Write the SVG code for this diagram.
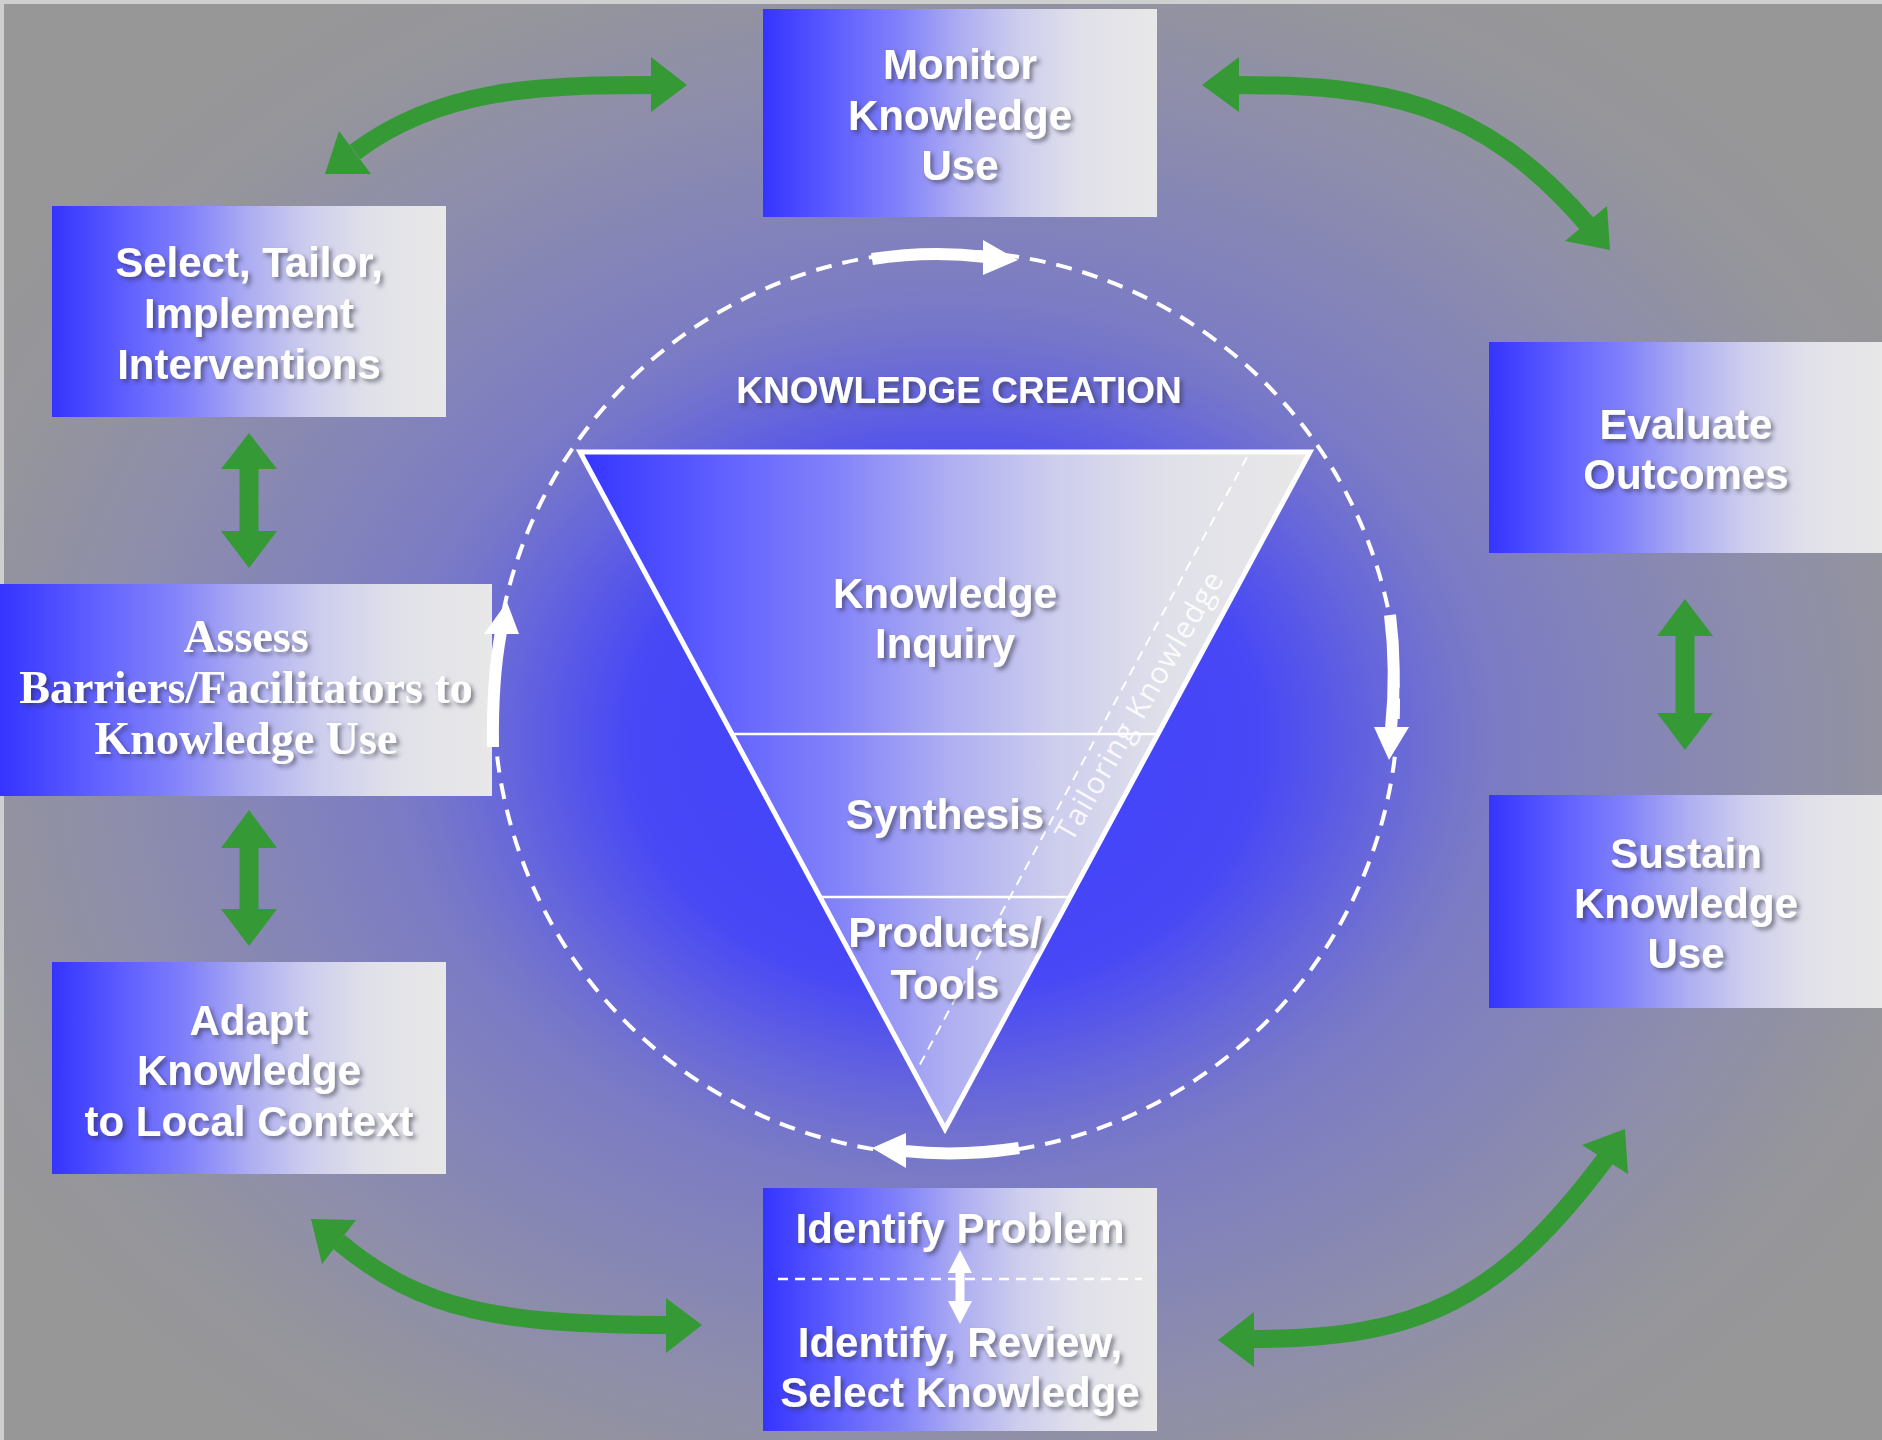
<svg xmlns="http://www.w3.org/2000/svg" width="1882" height="1440" viewBox="0 0 1882 1440">
<defs>
<radialGradient id="bg" gradientUnits="userSpaceOnUse" cx="945" cy="740" r="900" gradientTransform="translate(945 740) scale(1.25 1) translate(-945 -740)">
<stop offset="0" stop-color="#4040ff"/>
<stop offset="0.28" stop-color="#4848f6"/>
<stop offset="0.34" stop-color="#5858e8"/>
<stop offset="0.39" stop-color="#6666dc"/>
<stop offset="0.46" stop-color="#7676ca"/>
<stop offset="0.5" stop-color="#7c7cc4"/>
<stop offset="0.63" stop-color="#8686b6"/>
<stop offset="0.75" stop-color="#8e8eaa"/>
<stop offset="0.88" stop-color="#95959c"/>
<stop offset="1" stop-color="#979797"/>
</radialGradient>
<linearGradient id="bx" x1="0" y1="0" x2="1" y2="0">
<stop offset="0" stop-color="#3434ff"/>
<stop offset="0.2" stop-color="#6262ff"/>
<stop offset="0.35" stop-color="#8282fa"/>
<stop offset="0.5" stop-color="#adadf2"/>
<stop offset="0.65" stop-color="#cdcdee"/>
<stop offset="0.8" stop-color="#e0e0ea"/>
<stop offset="1" stop-color="#e8e8e8"/>
</linearGradient>
<filter id="sh" x="-10%" y="-30%" width="130%" height="170%">
<feGaussianBlur in="SourceAlpha" stdDeviation="2"/>
<feOffset dx="3" dy="3" result="o"/>
<feFlood flood-color="#303040" flood-opacity="0.55"/>
<feComposite in2="o" operator="in"/>
<feMerge><feMergeNode/><feMergeNode in="SourceGraphic"/></feMerge>
</filter>
<style>
.box { fill: url(#bx); }
.t { font-family: "Liberation Sans", Arial, sans-serif; font-weight: bold; font-size: 42px; fill: #ffffff; text-anchor: middle; }
.ts { font-family: "Liberation Serif", "Times New Roman", serif; font-weight: bold; font-size: 46px; fill: #ffffff; text-anchor: middle; }
.kc { font-family: "Liberation Sans", Arial, sans-serif; font-weight: bold; font-size: 37px; fill: #ffffff; text-anchor: middle; }
.tk { font-family: "Open Sans", "Liberation Sans", sans-serif; font-weight: normal; font-size: 30px; fill: #ffffff; fill-opacity: 0.88; text-anchor: middle; }
.g { fill: #359a35; }
.gs { fill: none; stroke: #359a35; stroke-width: 18; }
.w { fill: #ffffff; }
.ws { fill: none; stroke: #ffffff; stroke-width: 12; }
</style>
</defs>

<rect x="0" y="0" width="1882" height="1440" fill="url(#bg)"/>
<rect x="0" y="0" width="1882" height="4" fill="#cfcfcf"/>
<rect x="0" y="0" width="4" height="1440" fill="#cfcfcf"/>

<g id="knowledge-creation">
<circle cx="946" cy="703" r="452" fill="none" stroke="#ffffff" stroke-width="4" stroke-dasharray="16 11"/>
<polygon points="580,452 1310,452 945,1129" fill="url(#bx)" stroke="#ffffff" stroke-width="5" stroke-linejoin="miter"/>
<line x1="732" y1="734" x2="1158" y2="734" stroke="#ffffff" stroke-width="2.5"/>
<line x1="820" y1="897" x2="1070" y2="897" stroke="#ffffff" stroke-width="2.5"/>
<line x1="1247" y1="457" x2="917" y2="1070" stroke="#ffffff" stroke-width="2" stroke-dasharray="10 7"/>
<text class="tk" x="1139" y="706" dy="0.35em" transform="rotate(-60 1139 706)" textLength="305">Tailoring Knowledge</text>
<g filter="url(#sh)">
<text class="kc" x="959" y="403">KNOWLEDGE CREATION</text>
<text class="t" x="945" y="608">Knowledge</text>
<text class="t" x="945" y="658">Inquiry</text>
<text class="t" x="945" y="829">Synthesis</text>
<text class="t" x="945" y="947">Products/</text>
<text class="t" x="945" y="999">Tools</text>
</g>
</g>

<g id="monitor">
<rect class="box" x="763" y="9" width="394" height="208"/>
<g filter="url(#sh)">
<text class="t" x="960" y="79">Monitor</text>
<text class="t" x="960" y="130">Knowledge</text>
<text class="t" x="960" y="180">Use</text>
</g>
</g>

<g id="select">
<rect class="box" x="52" y="206" width="394" height="211"/>
<g filter="url(#sh)">
<text class="t" x="249" y="277">Select, Tailor,</text>
<text class="t" x="249" y="328">Implement</text>
<text class="t" x="249" y="379">Interventions</text>
</g>
</g>

<g id="assess">
<rect class="box" x="0" y="584" width="492" height="212"/>
<g filter="url(#sh)">
<text class="ts" x="246" y="652">Assess</text>
<text class="ts" x="246" y="703">Barriers/Facilitators to</text>
<text class="ts" x="246" y="754">Knowledge Use</text>
</g>
</g>

<g id="adapt">
<rect class="box" x="52" y="962" width="394" height="212"/>
<g filter="url(#sh)">
<text class="t" x="249" y="1035">Adapt</text>
<text class="t" x="249" y="1085">Knowledge</text>
<text class="t" x="249" y="1136">to Local Context</text>
</g>
</g>

<g id="identify">
<rect class="box" x="763" y="1188" width="394" height="243"/>
<line x1="778" y1="1279" x2="1142" y2="1279" stroke="#ffffff" stroke-width="2.5" stroke-dasharray="10 7"/>
<polygon class="w" points="960,1250 972,1273 964.5,1273 964.5,1301 972,1301 960,1324 948,1301 955.5,1301 955.5,1273 948,1273"/>
<g filter="url(#sh)">
<text class="t" x="960" y="1243">Identify Problem</text>
<text class="t" x="960" y="1357">Identify, Review,</text>
<text class="t" x="960" y="1407">Select Knowledge</text>
</g>
</g>

<g id="evaluate">
<rect class="box" x="1489" y="342" width="393" height="211"/>
<g filter="url(#sh)">
<text class="t" x="1686" y="439">Evaluate</text>
<text class="t" x="1686" y="489">Outcomes</text>
</g>
</g>

<g id="sustain">
<rect class="box" x="1489" y="795" width="393" height="213"/>
<g filter="url(#sh)">
<text class="t" x="1686" y="868">Sustain</text>
<text class="t" x="1686" y="918">Knowledge</text>
<text class="t" x="1686" y="968">Use</text>
</g>
</g>

<g id="connectors">
<!-- cycle arrows -->
<path class="ws" d="M 872 259 Q 930 250 986 257"/>
<polygon class="w" points="983,240 1018,260 983,275"/>
<path class="ws" d="M 1390 615 Q 1397 670 1391 729"/>
<polygon class="w" points="1374,727 1389,760 1409,727"/>
<path class="ws" d="M 1019 1148 Q 960 1157 904 1151"/>
<polygon class="w" points="906,1133 872,1148 906,1168"/>
<path class="ws" d="M 493 747 Q 492 680 501 632"/>
<polygon class="w" points="484,634 507,602 519,634"/>
<!-- green arrows -->
<path class="gs" d="M 653 85 C 540 85, 440 88, 355 152"/>
<polygon class="g" points="651,57 687,85 651,112"/>
<polygon class="g" points="339,131 325,174 371,174"/>
<path class="gs" d="M 1237 85 C 1380 85, 1480 100, 1587 224"/>
<polygon class="g" points="1239,57 1202,85 1239,112"/>
<polygon class="g" points="1565,241 1607,206 1610,250"/>
<path class="gs" d="M 339 1242 C 420 1310, 500 1325, 668 1325"/>
<polygon class="g" points="356,1220 311,1219 322,1264"/>
<polygon class="g" points="666,1298 702,1325 666,1353"/>
<path class="gs" d="M 1252 1339 C 1420 1339, 1500 1300, 1606 1158"/>
<polygon class="g" points="1254,1312 1218,1340 1254,1367"/>
<polygon class="g" points="1582,1145 1625,1129 1628,1174"/>
<polygon class="g" points="249,433 277,469 258.5,469 258.5,531 277,531 249,568 221,531 239.5,531 239.5,469 221,469"/>
<polygon class="g" points="249,810 277,848 258.5,848 258.5,909 277,909 249,946 221,909 239.5,909 239.5,848 221,848"/>
<polygon class="g" points="1685,599 1713,636 1694.5,636 1694.5,713 1713,713 1685,750 1657,713 1675.5,713 1675.5,636 1657,636"/>
</g>
</svg>
